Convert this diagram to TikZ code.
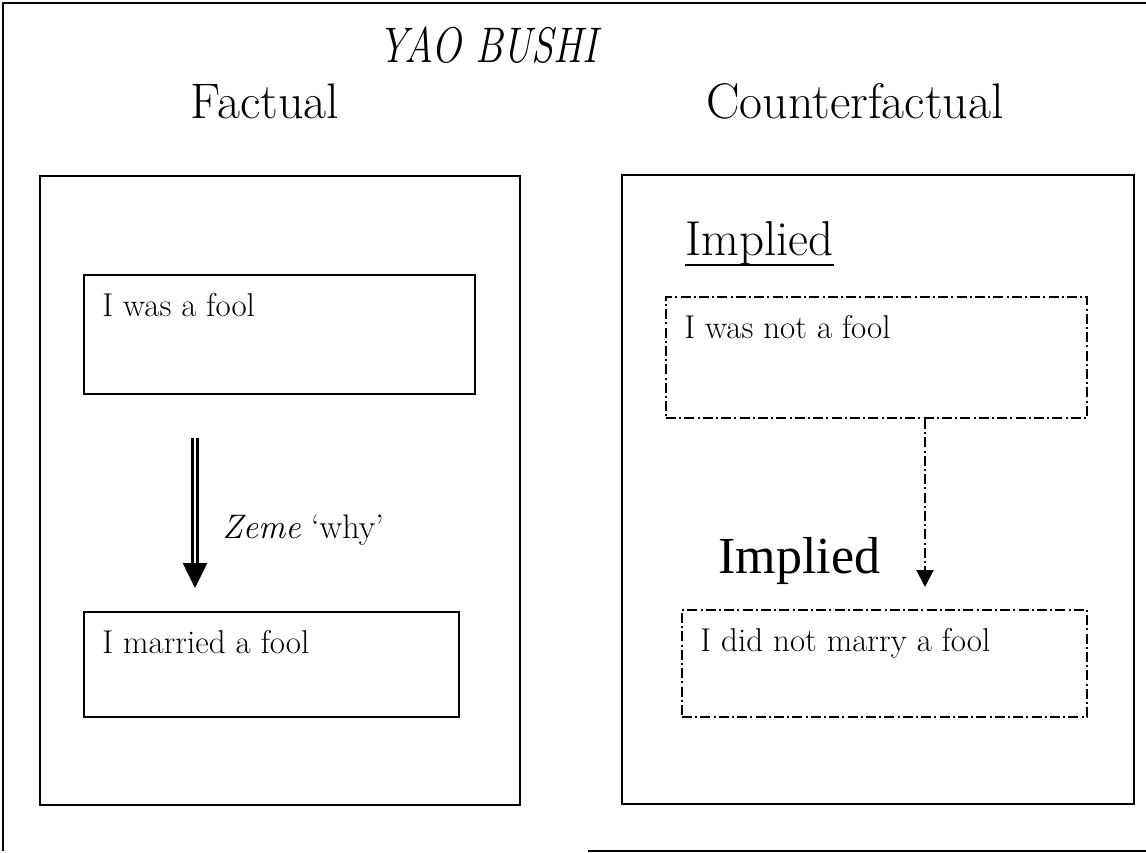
\documentclass[tikz,border=0pt]{standalone}
\usepackage{fontspec}
\newfontfamily\timesfont{Liberation Serif}
\usepackage{graphicx}
\usetikzlibrary{arrows.meta}

\begin{document}
\begin{tikzpicture}[x=0.5pt, y=-0.5pt,
  panel/.style={draw, line width=1.3pt, inner sep=0pt},
  factbox/.style={draw, line width=1pt, inner sep=0pt},
  guessbox/.style={draw, line width=1pt, inner sep=0pt, dash pattern=on 5pt off 1.6pt on 1pt off 1.6pt},
  boxtext/.style={anchor=north west, inner sep=0pt, font=\fontsize{16.5}{20}\selectfont},
  heading/.style={anchor=base, inner sep=0pt, font=\fontsize{25}{30}\selectfont}]
\useasboundingbox (0,0) rectangle (1146,852);
% frame, open on the right, bottom only partly printed
\draw[line width=1pt] (1146,3) -- (3,3) -- (3,851);
\draw[line width=1pt] (588,851) -- (1146,851);

\node[anchor=base, inner sep=0pt, font=\fontsize{25}{28}\selectfont\itshape] (yao) at (488,62) {\scalebox{.8}[1]{YAO BUSHI}};
\node[heading] (factual) at (265,118) {Factual};
\node[heading] (counter) at (855,118) {Counterfactual};

% factual side
\node[panel, minimum width=240pt, minimum height=314.5pt] (leftpanel) at (280,490.5) {};
\node[factbox, minimum width=195.5pt, minimum height=59.5pt] (wasfool) at (279.5,334.5) {};
\node[boxtext] (wasfooltxt) at ([shift={(19,19)}]wasfool.north west) {I was a fool};
\node[factbox, minimum width=187.5pt, minimum height=52.5pt] (marriedfool) at (271.5,664.5) {};
\node[boxtext] (marriedtxt) at ([shift={(19,19)}]marriedfool.north west) {I married a fool};
\coordinate (zemetop) at (195,438);
\coordinate (zemetip) at (195,588);
\draw[double, double distance=1pt, line width=1.3pt, -{Triangle[width=12pt,length=12.5pt]}] (zemetop) -- (zemetip);
\node[anchor=base west, inner sep=0pt, font=\fontsize{17}{20}\selectfont] (zeme) at (222,538) {\textit{Zeme} `why'};

% counterfactual side
\node[panel, minimum width=256pt, minimum height=314.5pt] (rightpanel) at (878,489.5) {};
\node[anchor=base west, inner sep=0pt, font=\fontsize{24.5}{28}\selectfont] (impliedA) at (685,255) {Implied};
\draw[line width=1pt] ([yshift=-5pt]impliedA.base west) -- ([yshift=-5pt]impliedA.base east);
\node[guessbox, minimum width=210.5pt, minimum height=60.5pt] (notfool) at (876.5,357.5) {};
\node[boxtext] (notfooltxt) at ([shift={(19,19)}]notfool.north west) {I was not a fool};
\node[guessbox, minimum width=202.5pt, minimum height=53.5pt] (notmarry) at (884.5,663.5) {};
\node[boxtext] (notmarrytxt) at ([shift={(19,19)}]notmarry.north west) {I did not marry a fool};
\coordinate (guesstip) at (925,587);
\draw[line width=1pt, dash pattern=on 5pt off 1.6pt on 1pt off 1.6pt, -{Triangle[width=8.5pt,length=8.5pt]}] (notfool.south -| guesstip) -- (guesstip);
\node[anchor=base west, inner sep=0pt, font=\timesfont\fontsize{26}{30}\selectfont] (impliedB) at (718,573) {Implied};
\end{tikzpicture}
\end{document}
